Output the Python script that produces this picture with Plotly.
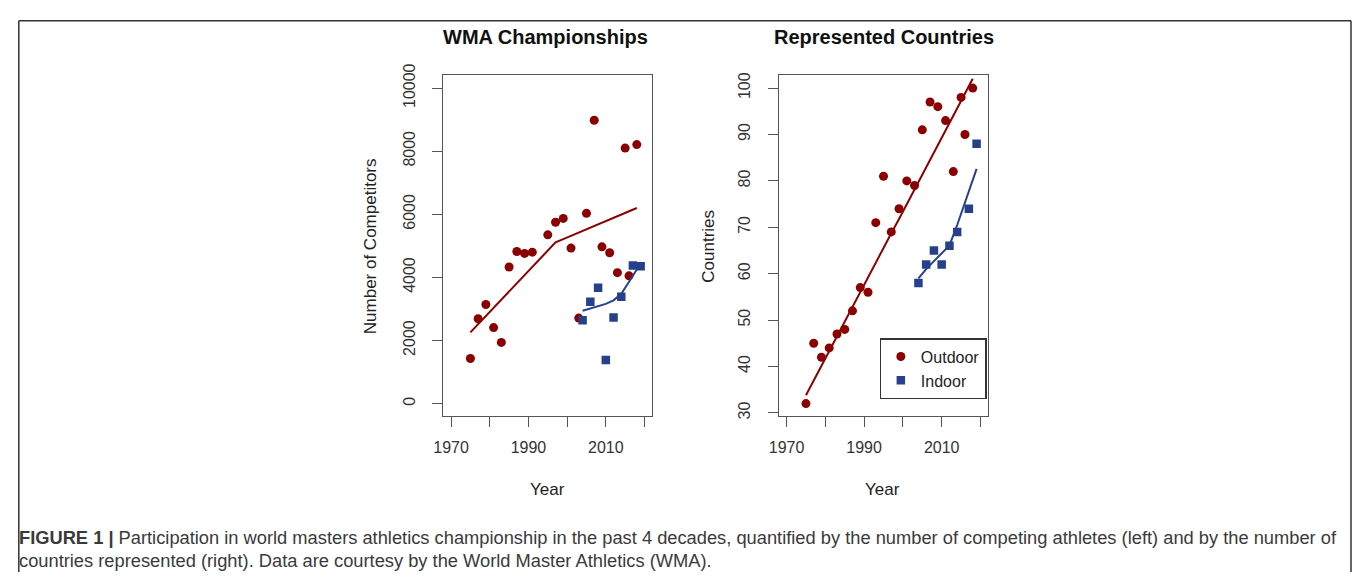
import plotly.graph_objects as go

# ---------------- data ----------------
outdoor_years = [1975, 1977, 1979, 1981, 1983, 1985, 1987, 1989, 1991, 1993, 1995, 1997,
                 1999, 2001, 2003, 2005, 2007, 2009, 2011, 2013, 2015, 2016, 2018]
outdoor_competitors = [1430, 2690, 3140, 2410, 1940, 4330, 4820, 4760, 4800, None, 5350, 5750,
                       5870, 4930, 2710, 6030, 8980, 4970, 4780, 4150, 8100, 4050, 8210]
outdoor_competitors_fit = [2256, 2517, 2778, 3038, 3299, 3560, 3820, 4081, 4341, 4600, 4862, 5110,
                           5212, 5316, 5420, 5524, 5629, 5733, 5837, 5941, 6046, 6098, 6200]
outdoor_countries = [32, 45, 42, 44, 47, 48, 52, 57, 56, 71, 81, 69,
                     74, 80, 79, 91, 97, 96, 93, 82, 98, 90, 100]
outdoor_countries_fit = [33.8, 37.0, 40.1, 43.3, 46.5, 49.7, 52.8, 56.0, 59.2, 62.3, 65.5, 68.7,
                         71.8, 75.0, 78.2, 81.4, 84.5, 87.7, 90.9, 94.0, 97.2, 98.8, 102.0]

indoor_years = [2004, 2006, 2008, 2010, 2012, 2014, 2017, 2019]
indoor_competitors = [2640, 3230, 3670, 1380, 2730, 3390, 4380, 4350]
indoor_countries = [58, 62, 65, 62, 66, 69, 74, 88]
indoor_competitors_fit_years = [2004, 2006, 2008, 2010, 2012, 2014, 2016, 2018]
indoor_competitors_fit = [2945, 3010, 3080, 3160, 3273, 3480, 3860, 4250]
indoor_countries_fit_years = [2004, 2006, 2008, 2010, 2012, 2014, 2017, 2019]
indoor_countries_fit = [59.0, 61.0, 62.7, 64.4, 66.1, 70.5, 77.5, 82.6]

year_ticks = [1970, 1980, 1990, 2000, 2010, 2020]
year_tick_text = ["1970", "", "1990", "", "2010", ""]
competitor_ticks = [0, 2000, 4000, 6000, 8000, 10000]
competitor_tick_text = ["0", "2000", "4000", "6000", "8000", "10000"]
country_ticks = [30, 40, 50, 60, 70, 80, 90, 100]

RED = "#8B0000"
BLUE = "#27408B"
W, H = 1344, 567
OFF = 8
FONT = "Liberation Sans, Arial, sans-serif"

fig = go.Figure()

# left panel
fig.add_trace(go.Scatter(x=outdoor_years, y=outdoor_competitors, mode="markers",
                         marker=dict(symbol="circle", size=9, color=RED),
                         xaxis="x", yaxis="y", showlegend=False))
fig.add_trace(go.Scatter(x=indoor_years, y=indoor_competitors, mode="markers",
                         marker=dict(symbol="square", size=8.5, color=BLUE),
                         xaxis="x", yaxis="y", showlegend=False))
fig.add_trace(go.Scatter(x=outdoor_years, y=outdoor_competitors_fit, mode="lines",
                         line=dict(color=RED, width=2), xaxis="x", yaxis="y", showlegend=False))
fig.add_trace(go.Scatter(x=indoor_competitors_fit_years, y=indoor_competitors_fit, mode="lines",
                         line=dict(color=BLUE, width=2), xaxis="x", yaxis="y", showlegend=False))

# right panel
fig.add_trace(go.Scatter(x=outdoor_years, y=outdoor_countries, mode="markers", name="Outdoor",
                         marker=dict(symbol="circle", size=9, color=RED),
                         xaxis="x2", yaxis="y2", showlegend=True))
fig.add_trace(go.Scatter(x=indoor_years, y=indoor_countries, mode="markers", name="Indoor",
                         marker=dict(symbol="square", size=8.5, color=BLUE),
                         xaxis="x2", yaxis="y2", showlegend=True))
fig.add_trace(go.Scatter(x=outdoor_years, y=outdoor_countries_fit, mode="lines",
                         line=dict(color=RED, width=2), xaxis="x2", yaxis="y2", showlegend=False))
fig.add_trace(go.Scatter(x=indoor_countries_fit_years, y=indoor_countries_fit, mode="lines",
                         line=dict(color=BLUE, width=2), xaxis="x2", yaxis="y2", showlegend=False))


def px_x(v):
    return (v - OFF) / W


def px_y(v):
    return 1 - (v - OFF) / H


axis_common = dict(showline=True, mirror=True, linecolor="#555", linewidth=1.3,
                   ticks="outside", ticklen=10, tickcolor="#555", tickwidth=1.3,
                   showgrid=False, zeroline=False,
                   tickfont=dict(family=FONT, size=16, color="#333"))

xdom_left = [px_x(436.5), px_x(647)]
xdom_right = [px_x(774.5), px_x(985.5)]
ydom = [px_y(415), px_y(65)]

fig.update_layout(
    width=W, height=H,
    margin=dict(l=0, r=0, t=0, b=0),
    paper_bgcolor="white", plot_bgcolor="white",
    font=dict(family=FONT, color="#222"),
    xaxis=dict(domain=xdom_left, range=[1968, 2022], anchor="y",
               tickvals=year_ticks, ticktext=year_tick_text, ticklabelstandoff=6, **axis_common),
    yaxis=dict(domain=ydom, range=[-400, 10400], anchor="x",
               tickvals=competitor_ticks, ticktext=competitor_tick_text,
               tickangle=-90, ticklabelstandoff=11, **axis_common),
    xaxis2=dict(domain=xdom_right, range=[1968, 2022], anchor="y2",
                tickvals=year_ticks, ticktext=year_tick_text, ticklabelstandoff=6, **axis_common),
    yaxis2=dict(domain=ydom, range=[29.28, 102.72], anchor="x2",
                tickvals=country_ticks, tickangle=-90, ticklabelstandoff=11, **axis_common),
    legend=dict(x=px_x(876), y=px_y(335), xanchor="left", yanchor="top",
                bordercolor="#333", borderwidth=1.3, bgcolor="white",
                font=dict(family=FONT, size=16, color="#222"),
                tracegroupgap=0, itemwidth=30),
)

annotations = [
    dict(text="<b>WMA Championships</b>", x=px_x(539), y=px_y(25), font=dict(size=20, color="#111")),
    dict(text="<b>Represented Countries</b>", x=px_x(880), y=px_y(25), font=dict(size=20, color="#111")),
    dict(text="Year", x=px_x(541), y=px_y(490), font=dict(size=17, color="#222")),
    dict(text="Year", x=px_x(879), y=px_y(490), font=dict(size=17, color="#222")),
    dict(text="Number of Competitors", x=px_x(364), y=px_y(240), textangle=-90,
         font=dict(size=17, color="#222")),
    dict(text="Countries", x=px_x(704), y=px_y(240), textangle=-90, font=dict(size=17, color="#222")),
]
for a in annotations:
    a.update(xref="paper", yref="paper", xanchor="center", yanchor="middle", showarrow=False)
    a["font"]["family"] = FONT
    fig.add_annotation(**a)

# caption (two lines); the second line sits on the bottom edge of the figure
caption_lines = [
    "<b>FIGURE 1 |</b> Participation in world masters athletics championship in the past 4 decades, "
    "quantified by the number of competing athletes (left) and by the number of",
    "countries represented (right). Data are courtesy by the World Master Athletics (WMA).",
]
fig.add_annotation(text=caption_lines[0], xref="paper", yref="paper", x=0, y=1 - 532 / H,
                   xanchor="left", yanchor="middle", showarrow=False, borderpad=0,
                   font=dict(family=FONT, size=18.3, color="#3a3a3a"))
fig.add_annotation(text=caption_lines[1], xref="paper", yref="paper", x=0, y=0,
                   xanchor="left", yanchor="bottom", showarrow=False, borderpad=0,
                   font=dict(family=FONT, size=18.3, color="#3a3a3a"))

# outer frame of the figure panel
frame = dict(type="line", xref="paper", yref="paper", line=dict(color="#333", width=1.5))
fig.add_shape(**frame, x0=px_x(8.8), x1=px_x(8.8), y0=0, y1=px_y(8.8))
fig.add_shape(**frame, x0=px_x(1351), x1=px_x(1351), y0=0, y1=px_y(8.8))
fig.add_shape(**frame, x0=px_x(8.8), x1=px_x(1351), y0=px_y(8.8), y1=px_y(8.8))

fig.write_html("out.html")
